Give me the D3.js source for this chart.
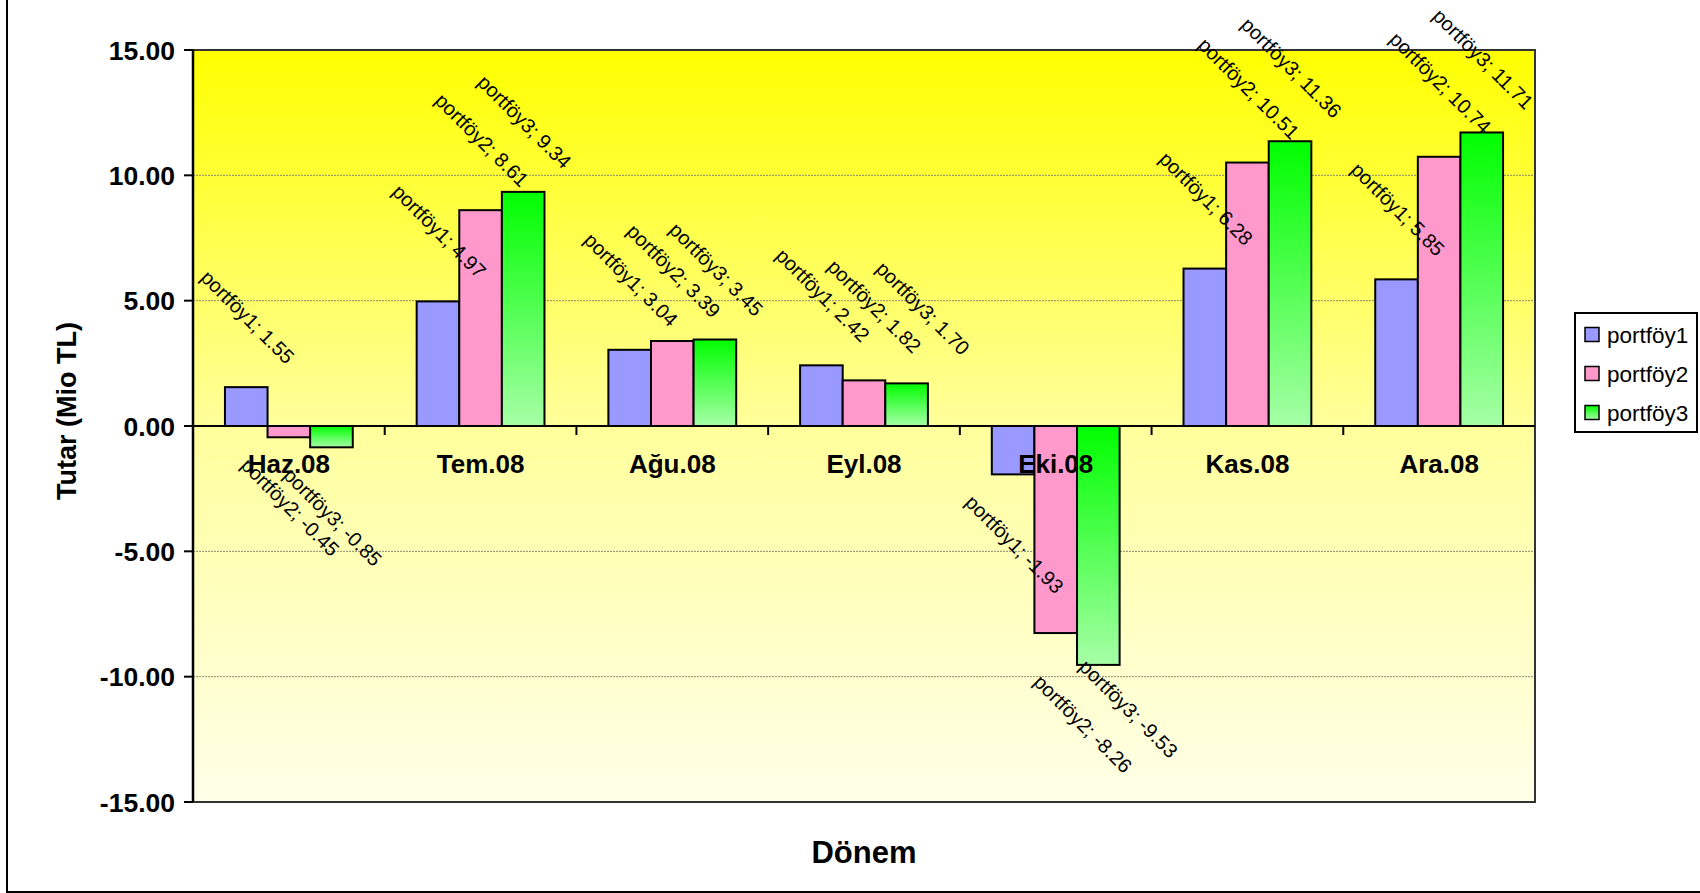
<!DOCTYPE html>
<html>
<head>
<meta charset="utf-8">
<script src="https://cdn.jsdelivr.net/npm/d3@7/dist/d3.min.js"></script>
<style>
  html, body { margin: 0; padding: 0; background: #ffffff; }
  svg { display: block; font-family: "Liberation Sans", Arial, sans-serif; }
</style>
</head>
<body>
<svg id="chart" width="1700" height="893"></svg>
<script>
// Monthly amounts per portfolio (Mio TL)
const categories = ["Haz.08", "Tem.08", "Ağu.08", "Eyl.08", "Eki.08", "Kas.08", "Ara.08"];
const seriesNames = ["portföy1", "portföy2", "portföy3"];
const portfoy1 = [1.55, 4.97, 3.04, 2.42, -1.93, 6.28, 5.85];
const portfoy2 = [-0.45, 8.61, 3.39, 1.82, -8.26, 10.51, 10.74];
const portfoy3 = [-0.85, 9.34, 3.45, 1.70, -9.53, 11.36, 11.71];
const yTicks = [-15, -10, -5, 0, 5, 10, 15];
const yTitle = "Tutar (Mio TL)";
const xTitle = "Dönem";

const seriesValues = [portfoy1, portfoy2, portfoy3];

// Hand-moved data labels (dx, dy in px) where the default spot would collide
const labelNudges = {
  "Eyl.08/portföy2": [9, -4],
  "Eyl.08/portföy3": [15, -5],
  "Eki.08/portföy2": [26, 21],
  "Eki.08/portföy3": [29, -26]
};

const svg = d3.select("#chart");
const plot = { left: 193, right: 1535, top: 50, bottom: 802 };

const x = d3.scaleBand().domain(categories).range([plot.left, plot.right]).paddingInner(0).paddingOuter(0);
const bw = x.bandwidth();
const gapPx = bw * 1.5 / 4.5; // gap width 150%
const xs = d3.scaleBand().domain(seriesNames).range([gapPx / 2, bw - gapPx / 2]).padding(0);
const y = d3.scaleLinear().domain([-15, 15]).range([plot.bottom, plot.top]);

const defs = svg.append("defs");
const bg = defs.append("linearGradient").attr("id", "bgGrad").attr("x1", 0).attr("y1", 0).attr("x2", 0).attr("y2", 1);
bg.append("stop").attr("offset", "0%").attr("stop-color", "#FFFF00");
bg.append("stop").attr("offset", "50%").attr("stop-color", "#FFFF9C");
bg.append("stop").attr("offset", "100%").attr("stop-color", "#FFFFE8");

const gg = defs.append("linearGradient").attr("id", "greenGrad").attr("x1", 0).attr("y1", 0).attr("x2", 0).attr("y2", 1);
gg.append("stop").attr("offset", "0%").attr("stop-color", "#00FF00");
gg.append("stop").attr("offset", "100%").attr("stop-color", "#A6FFA6");

const legendGrad = defs.append("linearGradient").attr("id", "greenGradLegend").attr("x1", 0).attr("y1", 0).attr("x2", 0).attr("y2", 1);
legendGrad.append("stop").attr("offset", "0%").attr("stop-color", "#00FF00");
legendGrad.append("stop").attr("offset", "100%").attr("stop-color", "#A6FFA6");

const fills = ["#9999FF", "#FF99CC", "url(#greenGrad)"];
const legendFills = ["#9999FF", "#FF99CC", "url(#greenGradLegend)"];

// Outer chart frame
svg.append("rect")
  .attr("x", 7).attr("y", -10).attr("width", 1720).attr("height", 902)
  .attr("fill", "none").attr("stroke", "#000").attr("stroke-width", 2);

// Plot area background
svg.append("rect")
  .attr("x", plot.left).attr("y", plot.top)
  .attr("width", plot.right - plot.left).attr("height", plot.bottom - plot.top)
  .attr("fill", "url(#bgGrad)");

// Gridlines
svg.append("g").selectAll("line")
  .data(yTicks.filter(t => t !== 0 && t !== 15 && t !== -15))
  .join("line")
  .attr("x1", plot.left).attr("x2", plot.right)
  .attr("y1", d => y(d)).attr("y2", d => y(d))
  .attr("stroke", "#8a8a70").attr("stroke-width", 1).attr("stroke-dasharray", "2,1");

// Plot area border
svg.append("rect")
  .attr("x", plot.left).attr("y", plot.top)
  .attr("width", plot.right - plot.left).attr("height", plot.bottom - plot.top)
  .attr("fill", "none").attr("stroke", "#333").attr("stroke-width", 2);

// Bars
const barData = [];
categories.forEach((c, i) => {
  seriesNames.forEach((s, j) => {
    barData.push({ cat: c, series: s, si: j, value: seriesValues[j][i] });
  });
});

svg.append("g").selectAll("rect")
  .data(barData)
  .join("rect")
  .attr("x", d => x(d.cat) + xs(d.series))
  .attr("width", xs.bandwidth())
  .attr("y", d => y(Math.max(0, d.value)))
  .attr("height", d => Math.abs(y(d.value) - y(0)))
  .attr("fill", d => fills[d.si])
  .attr("stroke", "#000").attr("stroke-width", 2);

// Value axis (left)
const yAxis = svg.append("g");
yAxis.append("line")
  .attr("x1", plot.left).attr("x2", plot.left)
  .attr("y1", plot.top).attr("y2", plot.bottom)
  .attr("stroke", "#000").attr("stroke-width", 2.5);
yAxis.selectAll("line.tick")
  .data(yTicks).join("line").attr("class", "tick")
  .attr("x1", plot.left - 9).attr("x2", plot.left)
  .attr("y1", d => y(d)).attr("y2", d => y(d))
  .attr("stroke", "#000").attr("stroke-width", 2);
yAxis.selectAll("text")
  .data(yTicks).join("text")
  .attr("x", plot.left - 18).attr("y", d => y(d)).attr("dy", "0.36em")
  .attr("text-anchor", "end")
  .attr("font-size", 26.5).attr("font-weight", "bold")
  .text(d => d.toFixed(2));

// Category axis at zero
const xAxis = svg.append("g");
xAxis.append("line")
  .attr("x1", plot.left - 9).attr("x2", plot.right)
  .attr("y1", y(0)).attr("y2", y(0))
  .attr("stroke", "#000").attr("stroke-width", 2);
xAxis.selectAll("line.tick")
  .data(categories.slice(1)).join("line").attr("class", "tick")
  .attr("x1", d => x(d)).attr("x2", d => x(d))
  .attr("y1", y(0)).attr("y2", y(0) + 9)
  .attr("stroke", "#000").attr("stroke-width", 2);
xAxis.selectAll("text")
  .data(categories).join("text")
  .attr("x", d => x(d) + bw / 2).attr("y", y(0) + 47)
  .attr("text-anchor", "middle")
  .attr("font-size", 26).attr("font-weight", "bold")
  .text(d => d);

// Data labels, rotated 45°, placed beyond the end of each bar
const fs = 20;
const gap = 19;
const labels = svg.append("g");
barData.forEach(d => {
  const txt = `${d.series}; ${d.value.toFixed(2)}`;
  const t = labels.append("text")
    .attr("font-size", fs)
    .attr("text-anchor", "middle")
    .attr("fill", "#000")
    .text(txt);
  const L = t.node().getComputedTextLength();
  const box = (L + 0.93 * fs) / Math.SQRT2;
  const cx = x(d.cat) + xs(d.series) + xs.bandwidth() / 2;
  let cy = d.value >= 0 ? y(d.value) - gap - box / 2 : y(d.value) + gap + box / 2;
  const n = labelNudges[`${d.cat}/${d.series}`] || [0, 0];
  t.attr("transform", `translate(${cx + n[0]},${cy + n[1]}) rotate(45)`)
    .attr("y", 0.255 * fs);
});

// Axis titles
svg.append("text")
  .attr("transform", `translate(76,${(plot.top + plot.bottom) / 2 - 15}) rotate(-90)`)
  .attr("text-anchor", "middle")
  .attr("font-size", 27).attr("font-weight", "bold")
  .text(yTitle);
svg.append("text")
  .attr("x", (plot.left + plot.right) / 2).attr("y", 863)
  .attr("text-anchor", "middle")
  .attr("font-size", 31).attr("font-weight", "bold")
  .text(xTitle);

// Legend
const legend = svg.append("g");
legend.append("rect")
  .attr("x", 1575).attr("y", 313).attr("width", 122).attr("height", 119)
  .attr("fill", "#fff").attr("stroke", "#000").attr("stroke-width", 2);
const ly = d3.scalePoint().domain(seriesNames).range([335, 413]);
legend.selectAll("rect.sw")
  .data(seriesNames).join("rect").attr("class", "sw")
  .attr("x", 1585).attr("y", d => ly(d) - 7.5)
  .attr("width", 14).attr("height", 14)
  .attr("fill", (d, i) => legendFills[i])
  .attr("stroke", "#000").attr("stroke-width", 1.5);
legend.selectAll("text")
  .data(seriesNames).join("text")
  .attr("x", 1607).attr("y", d => ly(d)).attr("dy", "0.36em")
  .attr("font-size", 22.5)
  .text(d => d);
</script>
</body>
</html>
